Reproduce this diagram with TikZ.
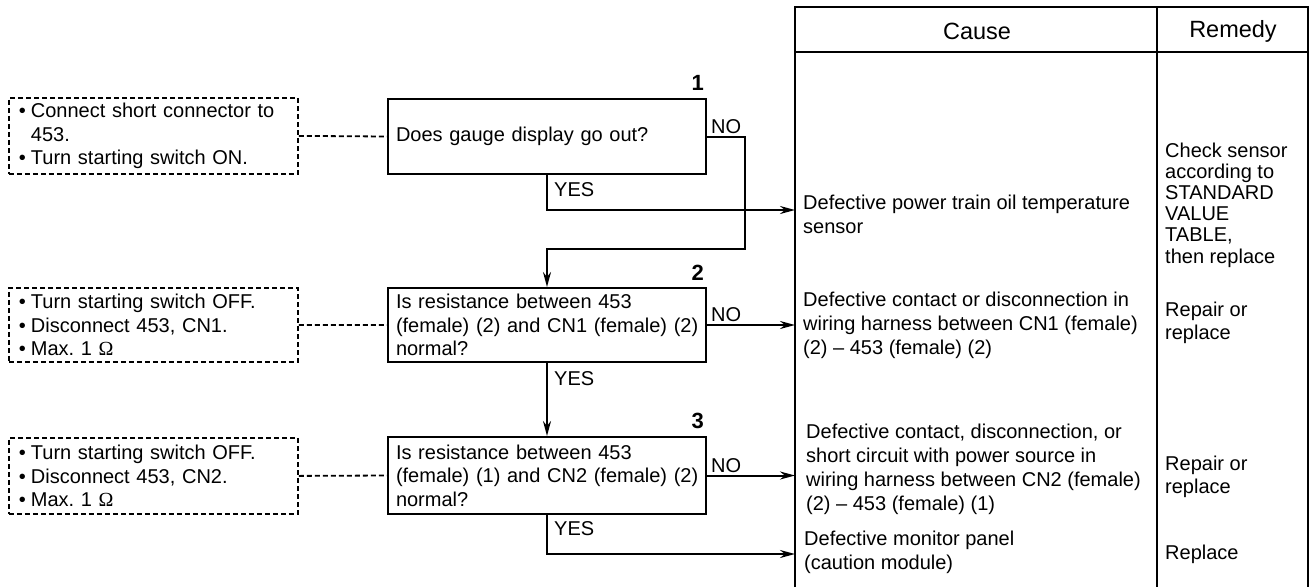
\documentclass[tikz,border=0pt]{standalone}
\usepackage{fontspec}
\setmainfont{Liberation Sans}
\newfontfamily\omegafont{Liberation Serif}
\usetikzlibrary{arrows.meta}
\frenchspacing
% bullet with a fixed-width slot, and a matching indent for wrapped lines
\newcommand\bul{\makebox[12pt][l]{\textbullet}}
\newcommand\hang{\hspace*{12pt}}
\newcommand\ohm{{\omegafont Ω}}
\begin{document}
\begin{tikzpicture}[x=1pt,y=-1pt,
  font=\fontsize{20}{23.5}\selectfont,
  decision/.style={draw,line width=2pt,minimum width=318pt,minimum height=75pt,
    inner xsep=8pt,inner ysep=0pt,text width=302pt,align=left,anchor=north west},
  prep/.style={draw,dash pattern=on 5pt off 3pt,line width=1.8pt,minimum width=289pt,
    minimum height=76pt,inner xsep=10pt,inner ysep=0pt,text width=269pt,align=left,anchor=north west},
  link/.style={dash pattern=on 5pt off 3pt,line width=1.8pt},
  flow/.style={line width=2pt,-{Stealth[length=15pt,width=8pt]}},
  tbl/.style={line width=2.2pt},
  head/.style={font=\fontsize{23.5}{28}\selectfont},
  num/.style={font=\bfseries\fontsize{22}{26}\selectfont,inner sep=0pt,anchor=south east},
  lblno/.style={inner sep=0pt,anchor=south west},
  lblyes/.style={inner sep=0pt,anchor=north west},
  cell/.style={inner sep=0pt,anchor=west,align=left,font=\fontsize{20}{24}\selectfont},
  remedy/.style={cell,font=\fontsize{20}{23}\selectfont},
]
\useasboundingbox (0,0) rectangle (1310,587);

% cause / remedy table
\draw[tbl] (795,587) -- (795,7) -- (1308,7) -- (1308,587);
\draw[tbl] (795,52) -- (1308,52);
\draw[tbl] (1157,7) -- (1157,587);
\node[head] (hcause) at (977,31) {Cause};
\node[head] (hremedy) at (1233,31) {Remedy};

% decision boxes
\node[decision] (b1) at (387,98) {Does gauge display go out?};
\node[decision,minimum height=74pt] (b2) at (387,287) {\mbox{Is resistance between 453}\\\mbox{(female) (2) and CN1 (female) (2)}\\\mbox{normal?}};
\node[decision,minimum height=77pt] (b3) at (387,436) {\mbox{Is resistance between 453}\\\mbox{(female) (1) and CN2 (female) (2)}\\\mbox{normal?}};

\node[num] (n1) at ([xshift=-3pt,yshift=7pt]b1.north east) {1};
\node[num] (n2) at ([xshift=-3pt,yshift=6pt]b2.north east) {2};
\node[num] (n3) at ([xshift=-3pt,yshift=7pt]b3.north east) {3};

% preparation notes
\node[prep] (p1) at (8,97) {\bul Connect short connector to\\\hang 453.\\\bul Turn starting switch ON.};
\node[prep,minimum height=74pt] (p2) at (8,287) {\bul Turn starting switch OFF.\\\bul Disconnect 453, CN1.\\\bul Max. 1 \ohm};
\node[prep] (p3) at (8,437) {\bul Turn starting switch OFF.\\\bul Disconnect 453, CN2.\\\bul Max. 1 \ohm};

\draw[link] (p1.east) -- (b1.west);
\draw[link] (p2.east) -- (b2.west);
\draw[link] (p3.east) -- (b3.west);

% causes
\node[cell] (c1) at (803,214.5) {Defective power train oil temperature\\sensor};
\node[cell] (c2) at (803,325.5) {Defective contact or disconnection in\\wiring harness between CN1 (female)\\(2) – 453 (female) (2)};
\node[cell] (c3) at (806,469) {Defective contact, disconnection, or\\short circuit with power source in\\wiring harness between CN2 (female)\\(2) – 453 (female) (1)};
\node[cell] (c4) at (804,552) {Defective monitor panel\\(caution module)};

% remedies
\node[remedy,font=\fontsize{20}{21.2}\selectfont] (r1) at (1165,205) {Check sensor\\according to\\STANDARD\\VALUE\\TABLE,\\then replace};
\node[remedy] (r2) at (1165,322.5) {Repair or\\replace};
\node[remedy] (r3) at (1165,476.5) {Repair or\\replace};
\node[remedy] (r4) at (1165,554) {Replace};

% arrow targets on the table edge
\coordinate (tx) at (795,0);
\coordinate (t1) at (795,210);
\coordinate (t4) at (795,554);
\coordinate (k1) at (745,249);

% flow connectors
\draw[flow] (b1.south) |- (t1);
\draw[flow] (b1.east) -| (k1) -| (b2.north);
\draw[flow] (b2.east) -- (b2.east -| tx);
\draw[flow] (b2.south) -- (b3.north);
\draw[flow] (b3.east) -- (b3.east -| tx);
\draw[flow] (b3.south) |- (t4);

% branch labels
\node[lblno] (no1) at ([xshift=4pt,yshift=3pt]b1.east) {NO};
\node[lblno] (no2) at ([xshift=4pt,yshift=3pt]b2.east) {NO};
\node[lblno] (no3) at ([xshift=4pt,yshift=3pt]b3.east) {NO};
\node[lblyes] (yes1) at ([xshift=7pt,yshift=-7pt]b1.south) {YES};
\node[lblyes] (yes2) at ([xshift=7pt,yshift=-8pt]b2.south) {YES};
\node[lblyes] (yes3) at ([xshift=7pt,yshift=-6pt]b3.south) {YES};
\end{tikzpicture}
\end{document}
